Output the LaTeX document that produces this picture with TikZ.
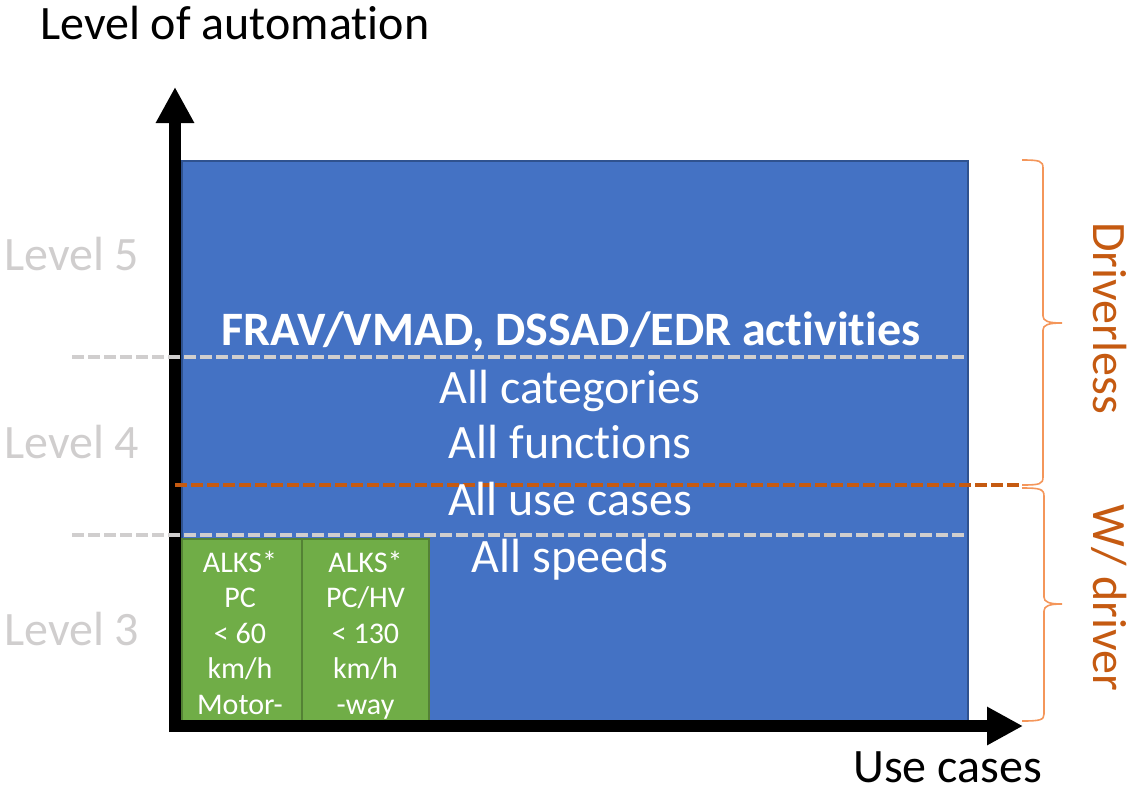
\documentclass[tikz,border=0pt]{standalone}
\usepackage{fontspec}
\setmainfont{Carlito}[Ligatures=NoCommon]
\usetikzlibrary{arrows.meta,calc}
\definecolor{blueF}{RGB}{68,114,196}
\definecolor{blueD}{RGB}{47,82,143}
\definecolor{greenF}{RGB}{112,173,71}
\definecolor{greenD}{RGB}{84,130,53}
\definecolor{lgray}{RGB}{208,206,206}
\definecolor{orangeD}{RGB}{197,90,17}
\definecolor{orangeL}{RGB}{244,150,90}
\begin{document}
\begin{tikzpicture}[x=1pt,y=-1pt,
  big/.style={font=\fontsize{48}{56}\selectfont, inner sep=0pt, anchor=base},
  gtext/.style={font=\fontsize{30}{34}\selectfont, text=white, inner sep=0pt, anchor=base},
  axisarrow/.style={line width=12pt, -{Triangle[length=36pt,width=36pt]}},
  gdash/.style={draw=lgray, line width=4pt, dash pattern=on 12pt off 4pt},
  odash/.style={draw=orangeD, line width=4pt, dash pattern=on 12pt off 4pt},
  bracestyle/.style={draw=orangeL, line width=1.6pt},
  area/.style={draw=blueD, fill=blueF, line width=2pt, inner sep=0pt, anchor=north west},
  greenbox/.style={draw=greenD, fill=greenF, line width=2pt, inner sep=0pt, anchor=north west, minimum height=182pt}
]
\useasboundingbox (0,0) rectangle (1127,796);

% main area
\node[area, minimum width=786pt, minimum height=560pt] (main) at (181,160) {};
\node[greenbox, minimum width=120pt] (g1) at (181,538) {};
\node[greenbox, minimum width=127pt] (g2) at (301,538) {};

% axes
\coordinate (yb) at (175,732);
\coordinate (yt) at (175,87);
\coordinate (xl) at (169,726);
\coordinate (xr) at (1023,726);
\draw[axisarrow] (yb) -- (yt);
\draw[axisarrow] (xl) -- (xr);

% dashed level lines
\coordinate (d5l) at (72,357);
\coordinate (d5r) at (965,357);
\coordinate (d4l) at (72,535);
\coordinate (d4r) at (965,535);
\coordinate (ol) at (175,485);
\coordinate (or) at (1022,485);
\draw[gdash] (d5l) -- (d5r);
\draw[gdash] (d4l) -- (d4r);
\draw[odash] (ol) -- (or);

% braces
\draw[bracestyle] (1022,160) .. controls (1040,160) and (1043,161) .. (1043,168)
  -- (1043,316) .. controls (1043,321) and (1048,323) .. (1062,323)
  .. controls (1048,323) and (1043,325) .. (1043,330)
  -- (1043,477) .. controls (1043,484) and (1040,485) .. (1022,485);
\draw[bracestyle] (1022,488) .. controls (1040,488) and (1044,489) .. (1044,496)
  -- (1044,597) .. controls (1044,602) and (1049,604) .. (1062,604)
  .. controls (1049,604) and (1044,606) .. (1044,611)
  -- (1044,714) .. controls (1044,720) and (1040,721) .. (1022,721);

% axis labels
\node[big, anchor=base west] (title) at (40,39) {Level of automation};
\node[big, anchor=base west] (usecases) at (853,782) {Use cases};

% level labels
\node[big, text=lgray, anchor=base west] (l5) at (4,270) {Level 5};
\node[big, text=lgray, anchor=base west] (l4) at (4,458) {Level 4};
\node[big, text=lgray, anchor=base west] (l3) at (4,645) {Level 3};

% area texts
\node[big, text=white, font=\fontsize{48}{56}\selectfont\bfseries] (frav) at (571,345) {FRAV/VMAD, DSSAD/EDR activities};
\node[big, text=white] (cat) at (570,403) {All categories};
\node[big, text=white] (fun) at (570,458) {All functions};
\node[big, text=white] (use) at (570,515) {All use cases};
\node[big, text=white] (spd) at (570,572) {All speeds};

% green box texts
\foreach \t [count=\i] in {ALKS*, PC, {< 60}, km/h, Motor-}
  \node[gtext] (g1-\i) at ($(g1.north)+(-2,34+35.5*\i-35.5)$) {\t};
\foreach \t [count=\i] in {ALKS*, PC/HV, {< 130}, km/h, -way}
  \node[gtext] (g2-\i) at ($(g2.north)+(0,34+35.5*\i-35.5)$) {\t};

% brace labels
\node[big, text=orangeD, rotate=-90] (dl) at (1093,318) {Driverless};
\node[big, text=orangeD, rotate=-90] (wd) at (1093,598) {W/ driver};
\end{tikzpicture}
\end{document}
